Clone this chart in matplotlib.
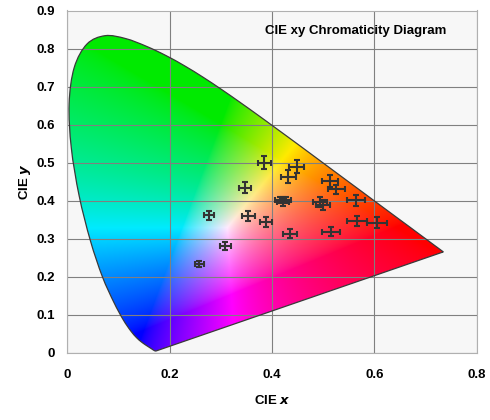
import numpy as np
import matplotlib
matplotlib.use('Agg')
import matplotlib.pyplot as plt
from matplotlib.path import Path
from matplotlib.patches import PathPatch

# CIE 1931 2 deg spectral locus, 380-700 nm in 5 nm steps
locus_x = [0.1741, 0.1740, 0.1738, 0.1736, 0.1733, 0.1730, 0.1726, 0.1721,
           0.1714, 0.1703, 0.1689, 0.1669, 0.1644, 0.1611, 0.1566, 0.1510,
           0.1440, 0.1355, 0.1241, 0.1096, 0.0913, 0.0687, 0.0454, 0.0235,
           0.0082, 0.0039, 0.0139, 0.0389, 0.0743, 0.1142, 0.1547, 0.1929,
           0.2296, 0.2658, 0.3016, 0.3373, 0.3731, 0.4087, 0.4441, 0.4788,
           0.5125, 0.5448, 0.5752, 0.6029, 0.6270, 0.6482, 0.6658, 0.6801,
           0.6915, 0.7006, 0.7079, 0.7140, 0.7190, 0.7230, 0.7260, 0.7283,
           0.7300, 0.7311, 0.7320, 0.7327, 0.7334, 0.7340, 0.7344, 0.7346,
           0.7347]
locus_y = [0.0050, 0.0050, 0.0049, 0.0049, 0.0048, 0.0048, 0.0048, 0.0048,
           0.0051, 0.0058, 0.0069, 0.0086, 0.0109, 0.0138, 0.0177, 0.0227,
           0.0297, 0.0399, 0.0578, 0.0868, 0.1327, 0.2007, 0.2950, 0.4127,
           0.5384, 0.6548, 0.7502, 0.8120, 0.8338, 0.8262, 0.8059, 0.7816,
           0.7543, 0.7243, 0.6923, 0.6589, 0.6245, 0.5896, 0.5547, 0.5202,
           0.4866, 0.4544, 0.4242, 0.3965, 0.3725, 0.3514, 0.3340, 0.3197,
           0.3083, 0.2993, 0.2920, 0.2859, 0.2809, 0.2770, 0.2740, 0.2717,
           0.2700, 0.2689, 0.2680, 0.2673, 0.2666, 0.2660, 0.2656, 0.2654,
           0.2653]

# measured chromaticities with uncertainties
pt_x = [0.385, 0.448, 0.432, 0.348, 0.416, 0.422, 0.427, 0.277, 0.354,
        0.388, 0.435, 0.309, 0.258, 0.513, 0.526, 0.494, 0.500, 0.564,
        0.566, 0.605, 0.515]
pt_y = [0.500, 0.489, 0.463, 0.434, 0.401, 0.397, 0.402, 0.361, 0.360,
        0.345, 0.313, 0.281, 0.233, 0.452, 0.430, 0.396, 0.389, 0.401,
        0.347, 0.342, 0.318]
pt_xerr = [0.013, 0.015, 0.014, 0.012, 0.010, 0.012, 0.010, 0.010, 0.012,
           0.012, 0.014, 0.011, 0.009, 0.016, 0.017, 0.014, 0.014, 0.018,
           0.019, 0.020, 0.017]
pt_yerr = [0.017, 0.017, 0.017, 0.014, 0.008, 0.012, 0.008, 0.013, 0.013,
           0.013, 0.012, 0.010, 0.008, 0.015, 0.012, 0.013, 0.013, 0.014,
           0.013, 0.014, 0.012]


def xy_to_rgb(x, y):
    '''xy -> normalised sRGB, brightest possible, mild gamma'''
    y = np.maximum(y, 1e-6)
    X = x / y
    Y = np.ones_like(x)
    Z = (1 - x - y) / y
    R = 3.2406 * X - 1.5372 * Y - 0.4986 * Z
    G = -0.9689 * X + 1.8758 * Y + 0.0415 * Z
    B = 0.0557 * X - 0.2040 * Y + 1.0570 * Z
    rgb = np.stack([R, G, B], axis=-1)
    rgb = np.clip(rgb, 0, None)
    rgb = rgb / np.maximum(rgb.max(axis=-1, keepdims=True), 1e-9)
    rgb = rgb ** (1 / 1.5)
    rgb[..., 1] *= 0.92  # green a touch darker, as in the picture
    return np.clip(rgb, 0, 1)


def smooth_locus(xs, ys):
    '''Catmull-Rom through the locus points, straight purple line back'''
    P = np.column_stack([xs, ys])
    n = len(P)
    verts = [P[0]]
    codes = [Path.MOVETO]
    for i in range(n - 1):
        p0 = P[max(i - 1, 0)]
        p1 = P[i]
        p2 = P[i + 1]
        p3 = P[min(i + 2, n - 1)]
        verts += [p1 + (p2 - p0) / 6, p2 - (p3 - p1) / 6, p2]
        codes += [Path.CURVE4] * 3
    verts += [P[0], P[0]]
    codes += [Path.LINETO, Path.CLOSEPOLY]
    return Path(verts, codes)


fig = plt.figure(figsize=(4.9, 4.2), dpi=100)
ax = fig.add_axes([0.137, 0.160, 0.836, 0.815])
ax.set_facecolor('#f7f7f7')

gx, gy = np.meshgrid(np.linspace(0, 0.8, 400), np.linspace(0, 0.9, 450))
img = xy_to_rgb(gx, gy)
im = ax.imshow(img, origin='lower', extent=(0, 0.8, 0, 0.9),
               aspect='auto', interpolation='bilinear', zorder=1)
patch = PathPatch(smooth_locus(locus_x, locus_y), facecolor='none',
                  edgecolor='#3a3a3a', lw=0.9, zorder=3)
ax.add_patch(patch)
im.set_clip_path(patch)

ax.errorbar(pt_x, pt_y, xerr=pt_xerr, yerr=pt_yerr, fmt='none',
            ecolor='#333333', elinewidth=1.5, capsize=2.2, capthick=1.5,
            zorder=5)

ax.set_xlim(0, 0.8)
ax.set_ylim(0, 0.9)
ax.set_xticks([0, 0.2, 0.4, 0.6, 0.8])
ax.set_xticklabels(['0', '0.2', '0.4', '0.6', '0.8'])
ax.set_yticks(np.arange(0, 0.91, 0.1))
ax.set_yticklabels(['0'] + ['%.1f' % v for v in np.arange(0.1, 0.91, 0.1)])
ax.grid(True, color='#808080', lw=0.8)
for gl in ax.get_xgridlines() + ax.get_ygridlines():
    gl.set_zorder(2)
for s in ax.spines.values():
    s.set_color('#b0b0b0')
    s.set_linewidth(0.8)
ax.tick_params(axis='y', length=0, pad=9, labelsize=9.5)
ax.tick_params(axis='x', length=0, pad=12, labelsize=9.5)
for lab in ax.get_xticklabels() + ax.get_yticklabels():
    lab.set_fontweight('bold')
    lab.set_family('Liberation Sans')

ax.set_xlabel(r'CIE $\boldsymbol{x}$', fontsize=9.5, fontweight='bold',
              family='Liberation Sans', labelpad=9)
ax.set_ylabel(r'CIE $\boldsymbol{y}$', fontsize=9.5, fontweight='bold',
              family='Liberation Sans', labelpad=2)
ax.text(0.387, 0.845, 'CIE xy Chromaticity Diagram', fontsize=9.5,
        fontweight='bold', family='Liberation Sans', va='center', zorder=6)

fig.savefig('out.png', dpi=100)
